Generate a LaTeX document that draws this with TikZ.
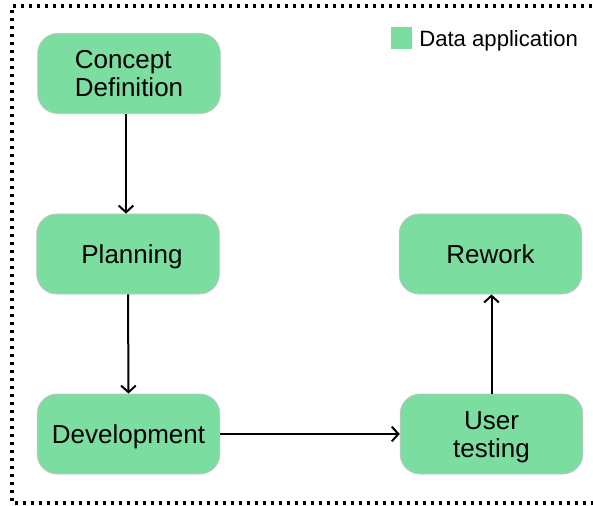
\documentclass[tikz,border=0pt]{standalone}
\usepackage{fontspec}
\setmainfont{Liberation Sans}
\usetikzlibrary{arrows.meta}
\definecolor{nodefill}{RGB}{123,221,160}
\definecolor{nodeline}{RGB}{190,200,195}
\tikzset{
  stage/.style={draw=nodeline, line width=0.6pt, fill=nodefill, rounded corners=15pt,
    minimum width=137pt, minimum height=60pt, inner sep=0pt, align=center,
    text height=14pt, text depth=0pt,
    font=\fontsize{19.5pt}{21pt}\selectfont},
  twoline/.style={text height=35pt, text depth=0pt},
  flow/.style={line width=1.5pt, -{Straight Barb[length=5pt,width=11pt,line width=1.5pt]}},
  frame/.style={line width=2.4pt, dash pattern=on 2.4pt off 3.6pt}
}
\begin{document}
\begin{tikzpicture}[x=0.75pt,y=-0.75pt]
\useasboundingbox (0,0) rectangle (593,506);
\draw[frame] (640,6) -- (12,6) -- (12,503) -- (640,503);
\node[stage, twoline, align=left] (cd) at (129,73.5) {Concept\\Definition};
\node[stage] (pl) at (128,254) {\hspace*{6pt}Planning};
\node[stage] (dev) at (128.5,434) {Development};
\node[stage, twoline] (ut) at (491.5,434) {User\\testing};
\node[stage] (rw) at (490.5,254) {Rework};
\node[fill=nodefill, minimum size=16pt, inner sep=0pt] (lg) at (401.5,38) {};
\node[anchor=west, inner sep=0pt, text height=11.8pt, text depth=0pt, font=\fontsize{16.6pt}{18pt}\selectfont] (lgt) at (419,38.5) {Data application};
\draw[flow] ([xshift=-2.25pt]cd.south) -- ([xshift=-1.5pt]pl.north);
\draw[flow] (pl.south) -- (dev.north);
\draw[flow] (dev.east) -- (ut.west);
\draw[flow] (ut.north) -- (rw.south -| ut.north);
\end{tikzpicture}
\end{document}
